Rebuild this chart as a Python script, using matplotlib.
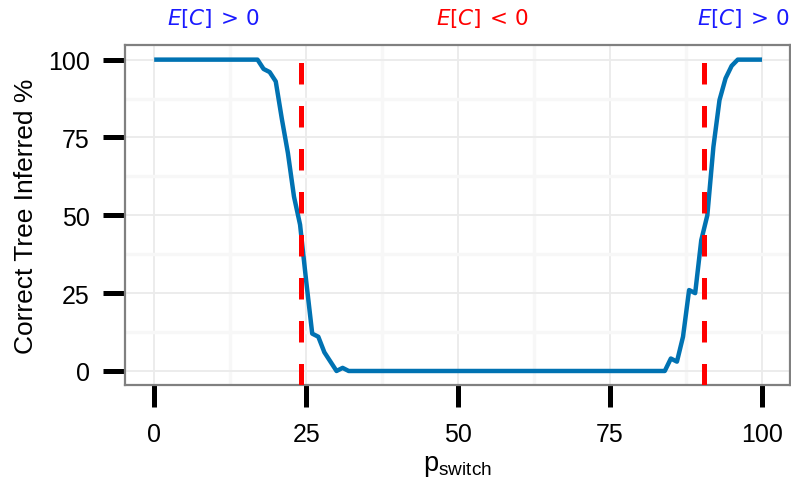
import matplotlib
matplotlib.use("Agg")
import matplotlib.pyplot as plt
import matplotlib.transforms as mtransforms
import numpy as np

# ---- data ----
p_switch = list(range(0, 101))
correct_pct = ([100] * 18 +
               [97, 96, 93, 81, 70, 56, 47, 29, 12, 11, 6, 3, 0, 1] +
               [0] * 53 +
               [4, 3, 11, 26, 25, 42, 50, 72, 87, 94, 98] +
               [100] * 5)
thresholds = [24.1, 90.5]
region_labels = [r"$E[C]\,>\,0$", r"$E[C]\,<\,0$", r"$E[C]\,>\,0$"]
region_label_x = [9.7, 54.0, 96.9]
region_colors = ["#1a1aff", "#ff0000", "#1a1aff"]
ticks = [0, 25, 50, 75, 100]
minor_ticks = [12.5, 37.5, 62.5, 87.5]

W, H = 791, 481
fig = plt.figure(figsize=(W / 100, H / 100), dpi=100)
fig.patch.set_facecolor("white")
left, right, top, bottom = 125, 790, 46, 386
ax = fig.add_axes([left / W, (H - bottom) / H, (right - left) / W, (bottom - top) / H])

ax.set_xlim(-4.8, 104.6)
ax.set_ylim(-4.5, 104.7)
ax.set_xticks(ticks)
ax.set_yticks(ticks)
ax.set_xticks(minor_ticks, minor=True)
ax.set_yticks(minor_ticks, minor=True)

ax.grid(True, which="major", color="#ebebeb", linewidth=1.3, zorder=0)
ax.grid(True, which="minor", color="#f7f7f7", linewidth=2.5, zorder=0)
ax.set_axisbelow(True)

ax.plot(p_switch, correct_pct, color="#0072B2", linewidth=3.2, zorder=3,
        solid_capstyle="butt", solid_joinstyle="round")
for t in thresholds:
    ax.axvline(t, color="#ff0000", linewidth=3.6, dashes=(4.3, 4.3), zorder=4)

for s in ax.spines.values():
    s.set_color("#808080")
    s.set_linewidth(1.6)

font = "Liberation Sans"
ax.tick_params(axis="both", which="major", length=15.8, width=3.6, color="black",
               direction="out", labelsize=18)
ax.tick_params(axis="x", which="major", pad=10.5)
ax.tick_params(axis="y", which="major", pad=9.5)
ax.tick_params(axis="both", which="minor", length=0)
for lab in ax.get_xticklabels() + ax.get_yticklabels():
    lab.set_fontfamily(font)

ax.set_xlabel(r"$\mathregular{p_{switch}}$", fontsize=19.5, fontfamily=font, labelpad=5)
ax.set_ylabel("Correct Tree Inferred %", fontsize=19, fontfamily=font, labelpad=7)

trans = mtransforms.blended_transform_factory(ax.transData, fig.transFigure)
for lx, lab, c in zip(region_label_x, region_labels, region_colors):
    ax.text(lx, 1 - 18 / H, lab, transform=trans, color=c, fontsize=15.5,
            ha="center", va="center", clip_on=False)

fig.savefig("out.png", dpi=100, facecolor="white")
